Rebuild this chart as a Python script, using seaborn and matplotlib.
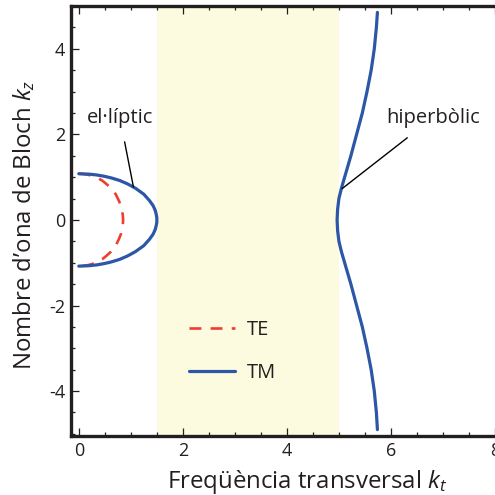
import matplotlib
matplotlib.use("Agg")
import matplotlib.pyplot as plt
from matplotlib.lines import Line2D
from matplotlib.ticker import MultipleLocator
import seaborn as sns
import pandas as pd

# Elliptic branch (kz from top to bottom) for TM and TE polarisations
ell_kz = [1.08, 1.07, 1.05, 1.02, 0.98, 0.92, 0.84, 0.74, 0.60, 0.45, 0.33, 0.22, 0.12, 0.05, 0.00,
          -0.05, -0.12, -0.22, -0.33, -0.45, -0.60, -0.74, -0.84, -0.92, -0.98, -1.02, -1.05, -1.07, -1.08]
tm_ell_kt = [0.00, 0.20, 0.35, 0.49, 0.63, 0.79, 0.94, 1.09, 1.25, 1.36, 1.43, 1.47, 1.49, 1.50, 1.50,
             1.50, 1.49, 1.47, 1.43, 1.36, 1.25, 1.09, 0.94, 0.79, 0.63, 0.49, 0.35, 0.20, 0.00]
te_ell_kt = [0.00, 0.11, 0.20, 0.28, 0.36, 0.45, 0.53, 0.62, 0.71, 0.77, 0.81, 0.83, 0.845, 0.85, 0.85,
             0.85, 0.845, 0.83, 0.81, 0.77, 0.71, 0.62, 0.53, 0.45, 0.36, 0.28, 0.20, 0.11, 0.00]

# Hyperbolic TM branch
hyp_kz = [4.85, 4.5, 4.0, 3.5, 3.0, 2.5, 2.0, 1.5, 1.25, 1.0, 0.75, 0.5, 0.25, 0.0,
          -0.25, -0.5, -0.75, -1.0, -1.25, -1.5, -2.0, -2.5, -3.0, -3.5, -4.0, -4.5, -4.9]
hyp_kt = [5.74, 5.72, 5.68, 5.62, 5.54, 5.45, 5.34, 5.23, 5.17, 5.11, 5.05, 5.00, 4.975, 4.965,
          4.975, 5.00, 5.05, 5.11, 5.17, 5.23, 5.34, 5.45, 5.54, 5.62, 5.68, 5.72, 5.74]

band = [1.5, 5.0]
x_ticks = [0, 2, 4, 6, 8]
y_ticks = [-4, -2, 0, 2, 4]

blue = "#2C56A6"
red = "#EF3E31"
ink = "#231f20"

sns.set_style("ticks")
plt.rcParams["font.family"] = ["Open Sans", "DejaVu Sans"]
plt.rcParams["mathtext.fontset"] = "custom"
plt.rcParams["mathtext.it"] = "Open Sans:italic"
plt.rcParams["mathtext.rm"] = "Open Sans"
plt.rcParams["axes.unicode_minus"] = False
plt.rcParams["text.color"] = ink
plt.rcParams["axes.labelcolor"] = ink
plt.rcParams["xtick.color"] = ink
plt.rcParams["ytick.color"] = ink

df = pd.concat([
    pd.DataFrame({"kt": tm_ell_kt, "kz": ell_kz, "mode": "TM", "branch": "TM-ell"}),
    pd.DataFrame({"kt": hyp_kt, "kz": hyp_kz, "mode": "TM", "branch": "TM-hyp"}),
    pd.DataFrame({"kt": te_ell_kt, "kz": ell_kz, "mode": "TE", "branch": "TE-ell"}),
], ignore_index=True)

fig = plt.figure(figsize=(4.95, 4.95), dpi=100)
ax = fig.add_axes([71 / 495, 59 / 495, 450 / 495, 430 / 495])

ax.axvspan(band[0], band[1], color="#FCFBDF", zorder=0, lw=0)

sns.lineplot(data=df[df["mode"] == "TM"], x="kt", y="kz", units="branch",
             estimator=None, sort=False, color=blue, lw=2.3, ax=ax,
             legend=False, zorder=3)
sns.lineplot(data=df[df["mode"] == "TE"], x="kt", y="kz", units="branch",
             estimator=None, sort=False, color=red, lw=1.9, ax=ax,
             legend=False, zorder=2)
ax.lines[-1].set_dashes((4.5, 3.5))

ax.set_xlim(-0.15, 8.5)
ax.set_ylim(-5.05, 5.0)
ax.set_xticks(x_ticks)
ax.set_yticks(y_ticks)
ax.xaxis.set_minor_locator(MultipleLocator(0.5))
ax.yaxis.set_minor_locator(MultipleLocator(0.5))
ax.tick_params(which="both", direction="in", top=True, right=False,
               color=ink, width=0.9)
ax.tick_params(which="major", length=5.5, labelsize=13, pad=4)
ax.tick_params(which="minor", length=3)
for s in ["left", "bottom", "top"]:
    ax.spines[s].set_linewidth(2.4)
    ax.spines[s].set_color(ink)
ax.spines["right"].set_visible(False)

ax.set_xlabel("Freqüència transversal $k_t$", fontsize=17.3)
ax.set_ylabel("Nombre d’ona de Bloch $k_z$", fontsize=17.3)
ax.xaxis.set_label_coords(0.524, -0.075)
ax.yaxis.set_label_coords(-0.075, 0.49)

ax.annotate("el·líptic", xy=(1.05, 0.77), xytext=(0.79, 2.39),
            ha="center", va="center", fontsize=14.5,
            arrowprops=dict(arrowstyle="-", color="black", lw=1,
                            shrinkA=8, shrinkB=0))
ax.annotate("hiperbòlic", xy=(5.06, 0.73), xytext=(6.81, 2.39),
            ha="center", va="center", fontsize=14.5,
            arrowprops=dict(arrowstyle="-", color="black", lw=1,
                            shrinkA=8, shrinkB=0))

handles = [Line2D([], [], color=red, lw=1.9, dashes=(4.5, 3.5)),
           Line2D([], [], color=blue, lw=2.3)]
ax.legend(handles, ["TE", "TM"], loc="upper left",
          bbox_to_anchor=(2.115, -2.33), bbox_transform=ax.transData,
          frameon=False, fontsize=14.5, handlelength=2.3, handletextpad=0.6,
          labelspacing=1.15, borderpad=0, borderaxespad=0)

fig.savefig("out.png", dpi=100)
